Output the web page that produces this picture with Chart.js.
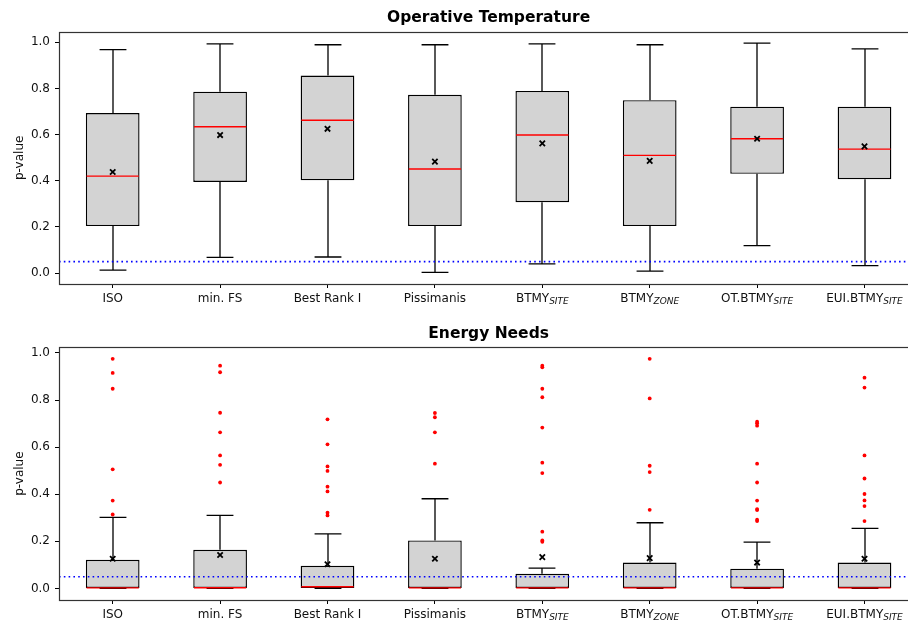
<!DOCTYPE html>
<html>
<head>
<meta charset="utf-8">
<script src="https://cdn.jsdelivr.net/npm/chart.js@4.4.0/dist/chart.umd.min.js"></script>
<style>
body { margin: 0; width: 908px; height: 624px; overflow: hidden; background: #fff; }
.panel { position: absolute; left: 0; width: 924px; height: 312px; }
</style>
</head>
<body>
<div class="panel" style="top:0px"><canvas id="temp"></canvas></div>
<div class="panel" style="top:312px"><canvas id="energy"></canvas></div>
<script>
// category names + subscript part (drawn smaller, italic)
var catNames = ['ISO', 'min. FS', 'Best Rank I', 'Pissimanis', 'BTMY', 'BTMY', 'OT.BTMY', 'EUI.BTMY'];
var catSubs = ['', '', '', '', 'SITE', 'ZONE', 'SITE', 'SITE'];
var yTicks = [0.0, 0.2, 0.4, 0.6, 0.8, 1.0];
var threshold = 0.05;

// Operative Temperature
var otLow = [0.013, 0.068, 0.070, 0.003, 0.040, 0.009, 0.119, 0.033];
var otQ1 = [0.204, 0.395, 0.402, 0.204, 0.307, 0.204, 0.430, 0.407];
var otMed = [0.420, 0.634, 0.662, 0.451, 0.598, 0.510, 0.582, 0.537];
var otQ3 = [0.693, 0.786, 0.856, 0.772, 0.789, 0.749, 0.721, 0.721];
var otHigh = [0.968, 0.993, 0.989, 0.989, 0.993, 0.989, 0.996, 0.971];
var otMean = [0.438, 0.598, 0.625, 0.483, 0.562, 0.486, 0.582, 0.549];
var otOutliers = [[], [], [], [], [], [], [], []];

// Energy Needs
var enLow = [0, 0, 0, 0, 0, 0, 0, 0];
var enQ1 = [0, 0, 0, 0, 0, 0, 0, 0];
var enMed = [0, 0.003, 0.007, 0, 0, 0, 0, 0];
var enQ3 = [0.122, 0.164, 0.096, 0.204, 0.062, 0.110, 0.084, 0.110];
var enHigh = [0.302, 0.310, 0.232, 0.381, 0.086, 0.279, 0.197, 0.255];
var enMean = [0.126, 0.142, 0.103, 0.126, 0.133, 0.129, 0.110, 0.126];
var enOutliers = [
    [0.975, 0.915, 0.848, 0.506, 0.373, 0.314],
    [0.946, 0.918, 0.746, 0.663, 0.565, 0.525, 0.450],
    [0.718, 0.612, 0.518, 0.499, 0.432, 0.412, 0.322, 0.310],
    [0.745, 0.727, 0.663, 0.530],
    [0.946, 0.939, 0.848, 0.812, 0.683, 0.534, 0.490, 0.241, 0.204, 0.198],
    [0.975, 0.807, 0.521, 0.494, 0.334],
    [0.708, 0.701, 0.691, 0.530, 0.450, 0.373, 0.337, 0.333, 0.292, 0.286],
    [0.895, 0.853, 0.565, 0.467, 0.401, 0.374, 0.350, 0.286]
];

var FONT = "'DejaVu Sans', sans-serif";
var labels = catNames.map((n, i) => catSubs[i] ? n + '_' + catSubs[i] : n);

// whiskers, caps and red medians, drawn right after the boxes
var boxExtras = {
    id: 'boxExtras',
    afterDatasetDraw(chart, args) {
        if (args.index !== 0) return;
        var st = chart.options.plugins.boxExtras;
        var ctx = chart.ctx;
        var y = chart.scales.y;
        var bars = args.meta.data;
        ctx.save();
        for (let i = 0; i < bars.length; i++) {
            var cx = Math.round(bars[i].x);
            var hw = bars[i].width / 2;
            var cap = hw / 2;
            ctx.strokeStyle = '#000';
            ctx.lineWidth = 1.3;
            ctx.beginPath();
            ctx.moveTo(cx, y.getPixelForValue(st.q3[i]));
            ctx.lineTo(cx, y.getPixelForValue(st.high[i]));
            ctx.moveTo(cx - cap, y.getPixelForValue(st.high[i]));
            ctx.lineTo(cx + cap, y.getPixelForValue(st.high[i]));
            ctx.moveTo(cx, y.getPixelForValue(st.q1[i]));
            ctx.lineTo(cx, y.getPixelForValue(st.low[i]));
            ctx.moveTo(cx - cap, y.getPixelForValue(st.low[i]));
            ctx.lineTo(cx + cap, y.getPixelForValue(st.low[i]));
            ctx.stroke();
            ctx.strokeStyle = '#ff0000';
            ctx.lineWidth = 1.4;
            ctx.beginPath();
            var my = y.getPixelForValue(st.med[i]);
            if (st.med[i] === 0) my -= 0.6;
            ctx.moveTo(bars[i].x - hw + 0.7, my);
            ctx.lineTo(bars[i].x + hw - 0.7, my);
            ctx.stroke();
        }
        ctx.restore();
    },
    afterDatasetsDraw(chart) {
        var ctx = chart.ctx;
        var a = chart.chartArea;
        var py = chart.scales.y.getPixelForValue(threshold);
        ctx.save();
        ctx.strokeStyle = '#0000ff';
        ctx.lineWidth = 1.6;
        ctx.setLineDash([1.6, 3.2]);
        ctx.beginPath();
        ctx.moveTo(a.left, py);
        ctx.lineTo(a.right, py);
        ctx.stroke();
        ctx.restore();
    },
    afterDraw(chart) {
        var ctx = chart.ctx;
        var a = chart.chartArea;
        var x = chart.scales.x;
        ctx.save();
        ctx.strokeStyle = '#333';
        ctx.lineWidth = 1.2;
        ctx.strokeRect(Math.round(a.left) + 0.5, Math.round(a.top) + 0.5, Math.round(a.right - a.left), Math.round(a.bottom - a.top));
        // category labels with subscripts
        ctx.fillStyle = '#111';
        ctx.textBaseline = 'alphabetic';
        ctx.textAlign = 'left';
        for (let i = 0; i < catNames.length; i++) {
            ctx.font = '12px ' + FONT;
            var w1 = ctx.measureText(catNames[i]).width;
            ctx.font = 'italic 9px ' + FONT;
            var w2 = catSubs[i] ? ctx.measureText(catSubs[i]).width : 0;
            var sx = x.getPixelForValue(i) - (w1 + w2) / 2;
            var by = a.bottom + 18;
            ctx.font = '12px ' + FONT;
            ctx.fillText(catNames[i], sx, by);
            if (catSubs[i]) {
                ctx.font = 'italic 9px ' + FONT;
                ctx.fillText(catSubs[i], sx + w1, by + 1.5);
            }
        }
        ctx.restore();
    }
};

function make_box_plot(id, title, st, yMin, yMax, titlePad, xHeight) {
    var outlierPts = [];
    st.out.forEach((arr, i) => arr.forEach(v => outlierPts.push({ x: labels[i], y: v })));

    var config = {
        type: 'bar',
        data: {
            labels: labels,
            datasets: [{
                data: st.q1.map((v, i) => [v, st.q3[i]]),
                backgroundColor: '#d3d3d3',
                borderColor: '#000',
                borderWidth: 1.4,
                borderSkipped: false,
                barPercentage: 0.5,
                categoryPercentage: 1.0,
                order: 3
            }, {
                type: 'line',
                data: st.mean.map((v, i) => ({ x: labels[i], y: v })),
                showLine: false,
                pointStyle: 'crossRot',
                pointRadius: 3.8,
                pointBorderColor: '#000',
                pointBorderWidth: 1.8,
                order: 1
            }, {
                type: 'line',
                data: outlierPts,
                showLine: false,
                pointStyle: 'circle',
                pointRadius: 1.9,
                pointBackgroundColor: '#ff0000',
                pointBorderWidth: 0,
                order: 2
            }]
        },
        options: {
            responsive: true,
            maintainAspectRatio: false,
            animation: false,
            layout: { padding: { left: 0, right: 4, top: 0, bottom: 0 } },
            plugins: {
                legend: { display: false },
                tooltip: { enabled: false },
                title: {
                    display: true,
                    text: title,
                    fullSize: false,
                    color: '#000',
                    font: { family: FONT, size: 15.5, weight: 'bold' },
                    padding: titlePad
                },
                boxExtras: st
            },
            scales: {
                x: {
                    type: 'category',
                    offset: true,
                    ticks: { display: false },
                    grid: { drawOnChartArea: false, drawTicks: true, tickLength: 4, color: '#000', offset: false },
                    border: { display: false },
                    afterFit: (scale) => { scale.height = xHeight; }
                },
                y: {
                    min: yMin,
                    max: yMax,
                    afterBuildTicks: (scale) => { scale.ticks = yTicks.map(v => ({ value: v })); },
                    ticks: {
                        callback: (v) => Number(v).toFixed(1),
                        color: '#111',
                        padding: 5,
                        font: { family: FONT, size: 12 }
                    },
                    grid: { drawOnChartArea: false, drawTicks: true, tickLength: 4, color: '#000' },
                    border: { display: false },
                    title: {
                        display: true,
                        text: 'p-value',
                        color: '#111',
                        font: { family: FONT, size: 12 },
                        padding: { top: 13, bottom: 0 }
                    },
                    afterFit: (scale) => { scale.width = 59; }
                }
            }
        },
        plugins: [boxExtras]
    };

    return new Chart(document.getElementById(id), config);
}

make_box_plot('temp', 'Operative Temperature',
    { low: otLow, q1: otQ1, med: otMed, q3: otQ3, high: otHigh, mean: otMean, out: otOutliers },
    -0.047, 1.046, { top: 9, bottom: 4 }, 28);

make_box_plot('energy', 'Energy Needs',
    { low: enLow, q1: enQ1, med: enMed, q3: enQ3, high: enHigh, mean: enMean, out: enOutliers },
    -0.049, 1.024, { top: 13, bottom: 3.7 }, 24);
</script>
</body>
</html>
